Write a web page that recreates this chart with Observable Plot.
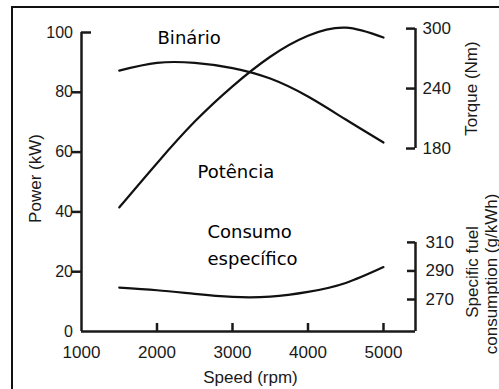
<!DOCTYPE html>
<html>
<head>
<meta charset="utf-8">
<script src="https://cdn.jsdelivr.net/npm/d3@7"></script>
<script src="https://cdn.jsdelivr.net/npm/@observablehq/plot@0.6"></script>
<style>
  html, body { margin: 0; padding: 0; background: #fff; overflow: hidden; }
  #chart { position: relative; width: 499px; height: 389px; overflow: hidden; }
  #chart .border { position: absolute; left: 11px; top: 6px; width: 600px; height: 600px;
    border-top: 2px solid #111; border-left: 2px solid #111; pointer-events: none; }
  #chart svg { position: absolute; left: 0; top: 0; }
</style>
</head>
<body>
<div id="chart"><div class="border"></div></div>
<script>
// Engine speed (rpm) at which the curves are sampled
const speed = [1500, 2000, 2500, 3000, 3500, 4000, 4500, 5000];
// Power output (kW)
const power = [41.5, 56.3, 70.2, 82.0, 91.9, 98.9, 101.6, 98.3];
// Torque (Nm)
const torque = [258, 265.7, 265.7, 260.5, 250, 232, 209, 186];
// Specific fuel consumption (g/kWh)
const fuel = [278.3, 276.5, 273.9, 271.8, 272.0, 275.3, 281.6, 292.7];

// Tick values of the four axes
const speedTicks = [1000, 2000, 3000, 4000, 5000];
const powerTicks = [0, 20, 40, 60, 80, 100];
const torqueTicks = [180, 240, 300];
const fuelTicks = [270, 290, 310];

// The torque and fuel axes share the power (kW) scale: map their units onto it
const torqueToPower = d3.scaleLinear([180, 300], [61.2, 101.3]);
const fuelToPower = d3.scaleLinear([270, 310], [10.7, 29.8]);

const rows = speed.map((s, i) => ({speed: s, power: power[i], torque: torque[i], fuel: fuel[i]}));

const W = 499, H = 389;
const mL = 81, mR = 84, mT = 32, mB = 58;
const frameW = W - mL - mR, frameH = H - mT - mB;
const xMax = 5424;
const ink = "#1a1a1a";
const axisW = 2.5;
const curveW = 2.2;
const labelFont = "'DejaVu Sans', Verdana, sans-serif";

const plot = Plot.plot({
  width: W, height: H,
  marginLeft: mL, marginRight: mR, marginTop: mT, marginBottom: mB,
  x: {domain: [1000, xMax]},
  y: {domain: [0, 100]},
  style: {fontFamily: "'Liberation Sans', Arial, sans-serif", fontSize: "17px", color: ink, background: "transparent", overflow: "visible"},
  marks: [
    // axis lines
    Plot.ruleY([0], {stroke: ink, strokeWidth: axisW}),
    Plot.ruleX([1000], {y1: 0, y2: 100, stroke: ink, strokeWidth: axisW}),
    Plot.ruleX([xMax], {y1: 0, y2: fuelToPower(310), stroke: ink, strokeWidth: axisW}),
    Plot.ruleX([xMax], {y1: torqueToPower(180), y2: torqueToPower(300), stroke: ink, strokeWidth: axisW}),

    // tick marks
    Plot.tickX(speedTicks.slice(1), {x: d => d, insetTop: frameH - 8, stroke: ink, strokeWidth: axisW}),
    Plot.tickY(powerTicks.filter(d => d > 0 && d < 100), {y: d => d, dx: -9, insetRight: frameW - 9, stroke: ink, strokeWidth: axisW}),
    Plot.tickY([100], {y: d => d, insetRight: frameW - 10, stroke: ink, strokeWidth: axisW}),
    Plot.tickY(torqueTicks, {y: d => torqueToPower(d), insetLeft: frameW - 9, stroke: ink, strokeWidth: axisW}),
    Plot.tickY(fuelTicks, {y: d => fuelToPower(d), insetLeft: frameW - 8, stroke: ink, strokeWidth: axisW}),

    // tick labels
    Plot.axisX(speedTicks, {tickSize: 0, tickPadding: 14, tickFormat: "d", label: null, fontSize: 17}),
    Plot.axisY(powerTicks, {tickSize: 0, tickPadding: 8.5, tickFormat: "d", label: null, fontSize: 16}),
    Plot.text(torqueTicks, {y: d => torqueToPower(d), text: d => String(d), frameAnchor: "right", dx: 7, textAnchor: "start", fontSize: 17}),
    Plot.text(fuelTicks, {y: d => fuelToPower(d), text: d => String(d), frameAnchor: "right", dx: 10, textAnchor: "start", fontSize: 17}),

    // axis titles
    Plot.text(["Power (kW)"], {text: d => d, frameAnchor: "left", dx: -41, dy: -3.5, rotate: -90, textAnchor: "middle", lineAnchor: "bottom", fontSize: 17}),
    Plot.text(["Speed (rpm)"], {text: d => d, frameAnchor: "bottom", dx: 2, dy: 51, textAnchor: "middle", lineAnchor: "bottom", fontSize: 17}),
    Plot.text(["Torque (Nm)"], {text: d => d, y: torqueToPower(240), frameAnchor: "right", dx: 61, rotate: -90, textAnchor: "middle", lineAnchor: "bottom", fontSize: 17}),
    Plot.text(["Specific fuel"], {text: d => d, y: fuelToPower(290), frameAnchor: "right", dx: 62, dy: 1, rotate: -90, textAnchor: "middle", lineAnchor: "bottom", fontSize: 17}),
    Plot.text(["consumption (g/kWh)"], {text: d => d, y: fuelToPower(290), frameAnchor: "right", dx: 81, dy: 3, rotate: -90, textAnchor: "middle", lineAnchor: "bottom", fontSize: 17}),

    // curves
    Plot.line(rows, {x: "speed", y: "power", curve: "natural", stroke: "#111", strokeWidth: curveW}),
    Plot.line(rows, {x: "speed", y: d => torqueToPower(d.torque), curve: "natural", stroke: "#111", strokeWidth: curveW}),
    Plot.line(rows, {x: "speed", y: d => fuelToPower(d.fuel), curve: "natural", stroke: "#111", strokeWidth: curveW}),

    // curve names
    Plot.text(["Binário"], {text: d => d, x: 2007, y: 96, textAnchor: "start", lineAnchor: "bottom", fontFamily: labelFont, fontSize: 18, fill: "#000"}),
    Plot.text(["Potência"], {text: d => d, x: 2536, y: 51.5, textAnchor: "start", lineAnchor: "bottom", fontFamily: labelFont, fontSize: 18, fill: "#000"}),
    Plot.text(["Consumo"], {text: d => d, x: 2669, y: 31.4, textAnchor: "start", lineAnchor: "bottom", fontFamily: labelFont, fontSize: 18, fill: "#000"}),
    Plot.text(["específico"], {text: d => d, x: 2669, y: 22.1, textAnchor: "start", lineAnchor: "bottom", fontFamily: labelFont, fontSize: 18, fill: "#000"})
  ]
});

document.getElementById("chart").appendChild(plot);
</script>
</body>
</html>
